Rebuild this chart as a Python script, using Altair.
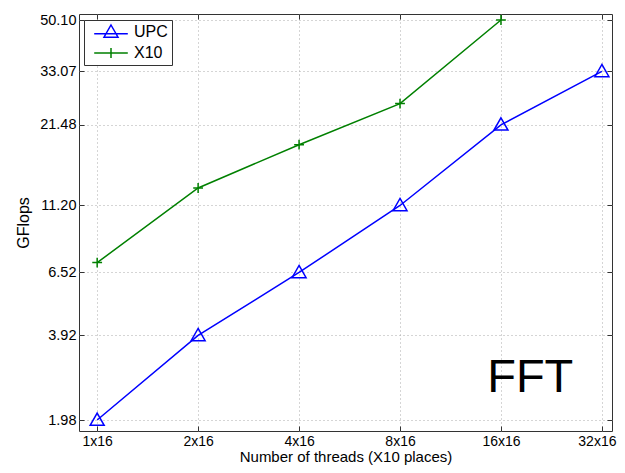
import json
import altair as alt
import pandas as pd

# ---- data ----
threads = ["1x16", "2x16", "4x16", "8x16", "16x16", "32x16"]
upc = [1.98, 3.92, 6.52, 11.20, 21.48, 33.07]
x10 = [7.06, 12.9, 18.3, 25.5, 50.10]
y_ticks = [1.98, 3.92, 6.52, 11.20, 21.48, 33.07, 50.10]
series_names = ["UPC", "X10"]
series_colors = ["#0000ff", "#008000"]
annotation_text = ["FFT"]
annotation_x = [4.29]
annotation_y = [2.48]

rows = []
for i, v in enumerate(upc):
    rows.append({"idx": i, "thread": threads[i], "gflops": v, "series": "UPC"})
for i, v in enumerate(x10):
    rows.append({"idx": i, "thread": threads[i], "gflops": v, "series": "X10"})
df = pd.DataFrame(rows)
ann = pd.DataFrame({"x": annotation_x, "y": annotation_y, "t": annotation_text})

W, H = 533, 417
FONT = "Liberation Sans"
FRAME = "#333333"
LAST = len(threads) - 1

xscale = alt.Scale(domain=[-0.18, 5.1], nice=False, zero=False)
yscale = alt.Scale(type="log", domain=[1.812, 52.59], nice=False)
label_expr = json.dumps(threads) + "[round(datum.value)]"

TRI = "M0,-1L1,0.75L-1,0.75Z"
PLUS = "M-0.7,0L0.7,0M0,-0.7L0,0.7"
TRI_LEG = "M-2.4,0.25L2.4,0.25M0,-1L1,0.75L-1,0.75Z"
PLUS_LEG = "M-2.4,0L2.4,0M0,-0.7L0,0.7"

main_x_axis = alt.Axis(
    values=list(range(len(threads))), labelExpr=label_expr,
    title="Number of threads (X10 places)", ticks=False, domain=False,
    grid=True, gridDash=[1, 3], gridColor="#aaaaaa", gridWidth=1,
    labelFontSize=14, labelFont=FONT, labelColor="black", labelPadding=3,
    labelFlush=False, labelOverlap=False,
    labelOffset={"condition": {"test": f"datum.value == {LAST}", "value": -5}, "value": 0},
    titleFontSize=15, titleFont=FONT, titleFontWeight="normal", titleColor="black",
    titleBaseline="alphabetic", titleY=30.5,
)
main_y_axis = alt.Axis(
    values=y_ticks, format=".2f", title="GFlops", ticks=False, domain=False,
    grid=True, gridDash=[1, 3], gridColor="#aaaaaa", gridWidth=1,
    labelFontSize=14.5, labelFont=FONT, labelColor="black", labelPadding=3,
    labelFlush=False, labelOverlap=False,
    titleFontSize=16, titleFont=FONT, titleFontWeight="normal", titleColor="black",
    titlePadding=8,
)


def tick_axis(orient, offset, values):
    return alt.Axis(orient=orient, offset=offset, values=values, labels=False,
                    ticks=True, tickSize=5, tickColor=FRAME, tickWidth=1,
                    domain=False, grid=False, title=None)


base = alt.Chart(df)
color_scale = alt.Scale(domain=series_names, range=series_colors)

lines = base.mark_line(strokeWidth=1.5).encode(
    x=alt.X("idx:Q", scale=xscale, axis=main_x_axis),
    y=alt.Y("gflops:Q", scale=yscale, axis=main_y_axis),
    color=alt.Color("series:N", scale=color_scale, legend=None),
)

points = base.mark_point(filled=False, size=196, strokeWidth=1.5, opacity=1).encode(
    x=alt.X("idx:Q", scale=xscale, axis=None),
    y=alt.Y("gflops:Q", scale=yscale, axis=None),
    color=alt.Color("series:N", scale=color_scale, legend=None),
    shape=alt.Shape("series:N", scale=alt.Scale(domain=series_names, range=[TRI, PLUS]), legend=None),
)

legend_layer = base.mark_point(filled=False, size=196, strokeWidth=1.5, opacity=0).encode(
    x=alt.X("idx:Q", scale=xscale, axis=None),
    y=alt.Y("gflops:Q", scale=yscale, axis=None),
    color=alt.Color("series:N", scale=color_scale, legend=alt.Legend(
        orient="none", legendX=5, legendY=6, title=None,
        labelFontSize=16, labelFont=FONT, labelColor="black",
        symbolOpacity=1, symbolSize=196, symbolStrokeWidth=1.5,
        symbolOffset=15, labelOffset=15,
        strokeColor=FRAME, fillColor="white", padding=4, rowPadding=4,
    )),
    shape=alt.Shape("series:N", scale=alt.Scale(domain=series_names, range=[TRI_LEG, PLUS_LEG])),
)

fft = alt.Chart(ann).mark_text(fontSize=47, font=FONT, color="black",
                                align="center", baseline="alphabetic").encode(
    x=alt.X("x:Q", scale=xscale, axis=None),
    y=alt.Y("y:Q", scale=yscale, axis=None),
    text="t:N",
)

ticks_a = base.mark_point(opacity=0).encode(
    x=alt.X("idx:Q", scale=xscale, axis=tick_axis("top", -H, list(range(len(threads))))),
    y=alt.Y("gflops:Q", scale=yscale, axis=tick_axis("right", -W, y_ticks)),
)
ticks_b = base.mark_point(opacity=0).encode(
    x=alt.X("idx:Q", scale=xscale, axis=tick_axis("bottom", -H, list(range(len(threads))))),
    y=alt.Y("gflops:Q", scale=yscale, axis=tick_axis("left", -W, y_ticks)),
)

chart = alt.layer(lines, points, legend_layer, fft, ticks_a, ticks_b).resolve_scale(
    color="independent", shape="independent"
).resolve_axis(
    x="independent", y="independent"
).properties(
    width=W, height=H,
    autosize=alt.AutoSizeParams(type="none"),
    padding={"left": 71, "top": 6, "right": 5, "bottom": 34},
    background="white",
).configure_view(stroke=FRAME, strokeWidth=1)

chart.save("out.html", embed_options={"renderer": "svg", "actions": False})
